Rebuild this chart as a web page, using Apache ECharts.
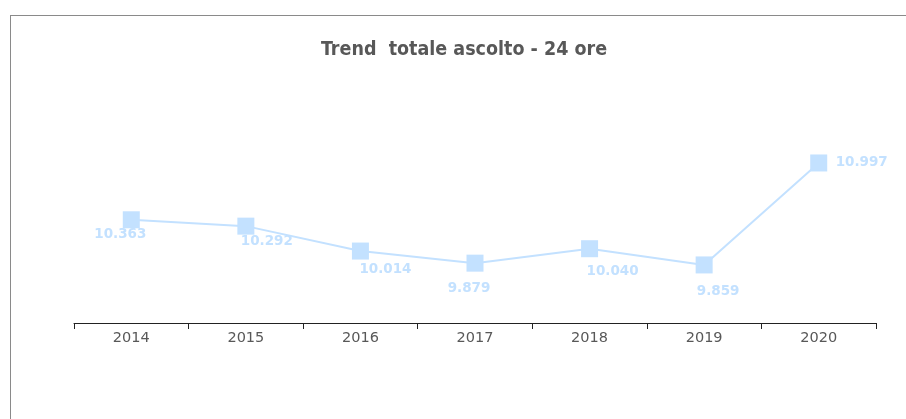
<!DOCTYPE html>
<html>
<head>
<meta charset="utf-8">
<script src="https://cdn.jsdelivr.net/npm/echarts@6/dist/echarts.min.js"></script>
<style>
html,body{margin:0;padding:0;background:#fff;overflow:hidden;}
#frame{position:absolute;left:10px;top:15px;width:1000px;height:600px;border:1px solid #8a8a8a;box-sizing:border-box;}
#chart{position:absolute;left:0;top:0;width:906px;height:419px;}
</style>
</head>
<body>
<div id="frame"></div>
<div id="chart"></div>
<script>
const titleText = 'Trend  totale ascolto - 24 ore';
const years = ['2014','2015','2016','2017','2018','2019','2020'];
const ascolto = [10363, 10292, 10014, 9879, 10040, 9859, 10997];
const labelOffsets = [[-11,15],[21,15],[25,18],[-6,25],[23,23],[14,27],[43,0]];

function fmt(v){ return String(v).replace(/\B(?=(\d{3})+(?!\d))/g,'.'); }

const chart = echarts.init(document.getElementById('chart'), null, {renderer:'canvas'});
chart.setOption({
  backgroundColor: 'transparent',
  animation: false,
  title: {
    text: titleText, left: 321, top: 40, padding: 0,
    textStyle: {fontFamily: 'DejaVu Sans Condensed, DejaVu Sans', fontWeight: 'bold', fontSize: 19.5, color: '#585858'}
  },
  grid: {left: 74, right: 30, top: 99, bottom: 96},
  xAxis: {
    type: 'category', data: years, boundaryGap: true,
    axisLine: {lineStyle: {color: '#222', width: 1}},
    axisTick: {show: true, length: 6, lineStyle: {color: '#222'}},
    axisLabel: {color: '#585858', fontFamily: 'DejaVu Sans', fontSize: 14.5, margin: 8}
  },
  yAxis: {
    type: 'value', min: 9211, max: 11711, show: false,
    splitLine: {show: false}
  },
  series: [{
    type: 'line',
    data: ascolto.map((v,i) => ({value: v, label: {offset: labelOffsets[i]}})),
    symbol: 'rect', symbolSize: 17,
    itemStyle: {color: '#c3e1ff'},
    lineStyle: {color: '#c3e1ff', width: 2},
    label: {
      show: true, position: 'inside',
      formatter: p => fmt(p.value),
      color: '#c3e1ff', fontFamily: 'DejaVu Sans', fontWeight: 'bold', fontSize: 13.5
    }
  }]
});
</script>
</body>
</html>
